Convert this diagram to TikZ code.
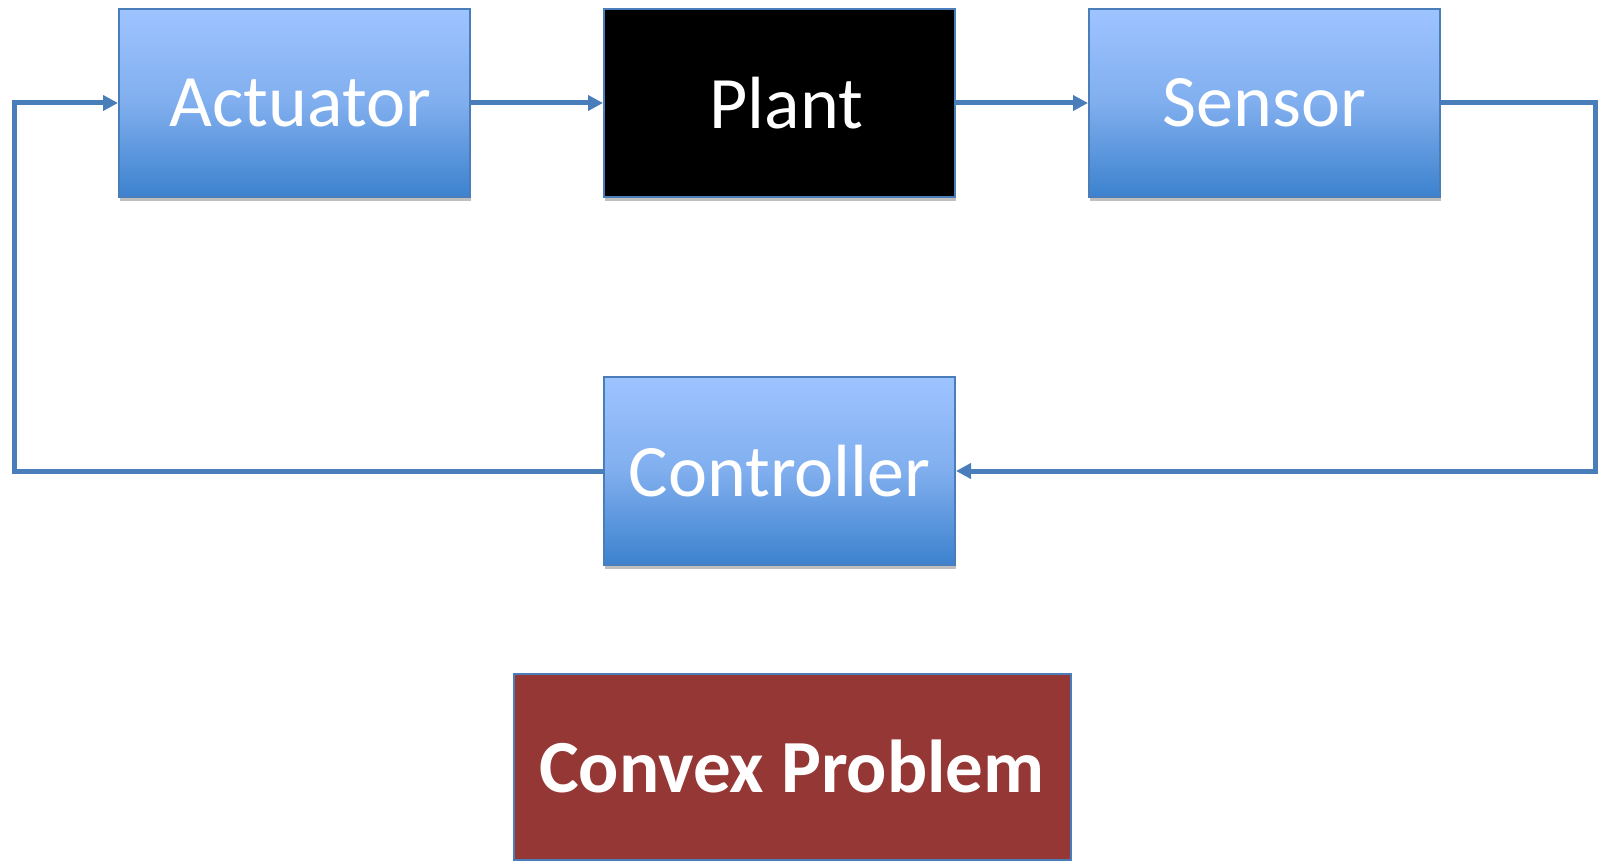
\documentclass[tikz,border=0pt]{standalone}
\usepackage{fontspec}
\setmainfont{Carlito}
\usetikzlibrary{arrows.meta,shadows}
\definecolor{lineblue}{RGB}{74,126,187}
\definecolor{topblue}{RGB}{158,196,255}
\definecolor{midblue}{RGB}{128,174,238}
\definecolor{botblue}{RGB}{60,130,206}
\definecolor{convexred}{RGB}{149,55,53}
\tikzset{
  blockbox/.style={draw=lineblue, line width=2pt, minimum width=351pt, minimum height=188pt,
    inner sep=0pt, top color=topblue, bottom color=botblue, middle color=midblue,
    text=white, font=\fontsize{74}{80}\selectfont,
    drop shadow={shadow xshift=1pt, shadow yshift=-4pt, opacity=0.25, fill=black}},
  plantbox/.style={blockbox, fill=black, top color=black, bottom color=black, middle color=black},
  convexbox/.style={draw=lineblue, line width=2pt, fill=convexred, minimum width=557pt,
    minimum height=186pt, inner sep=0pt, text=white, font=\fontsize{75}{80}\selectfont\bfseries},
  conn/.style={draw=lineblue, line width=5pt},
  arr/.style={conn, -{Triangle[length=15pt,width=15pt]}}
}
\begin{document}
\begin{tikzpicture}[x=1pt,y=-1pt]
\useasboundingbox (0,0) rectangle (1598,861);
\node[blockbox] (act) at (294.5,103) {\hspace*{12pt}Actuator};
\node[plantbox] (plant) at (779.5,103) {\hspace*{14pt}Plant};
\node[blockbox] (sens) at (1264.5,103) {Sensor};
\node[blockbox] (ctrl) at (779.5,471) {Controller};
\node[convexbox] (cvx) at (792,766.5) {Convex Problem};
\coordinate (rtop) at (1595,103);
\coordinate (rbot) at (1595,471);
\coordinate (lbot) at (14,471);
\coordinate (ltop) at (14,103);
\draw[arr] (act.east) -- (plant.west);
\draw[arr] (plant.east) -- (sens.west);
\draw[arr, line join=miter] (sens.east) -- (rtop) -- (rbot) -- (ctrl.east);
\draw[arr, line join=miter] (ctrl.west) -- (lbot) -- (ltop) -- (act.west);
\end{tikzpicture}
\end{document}
